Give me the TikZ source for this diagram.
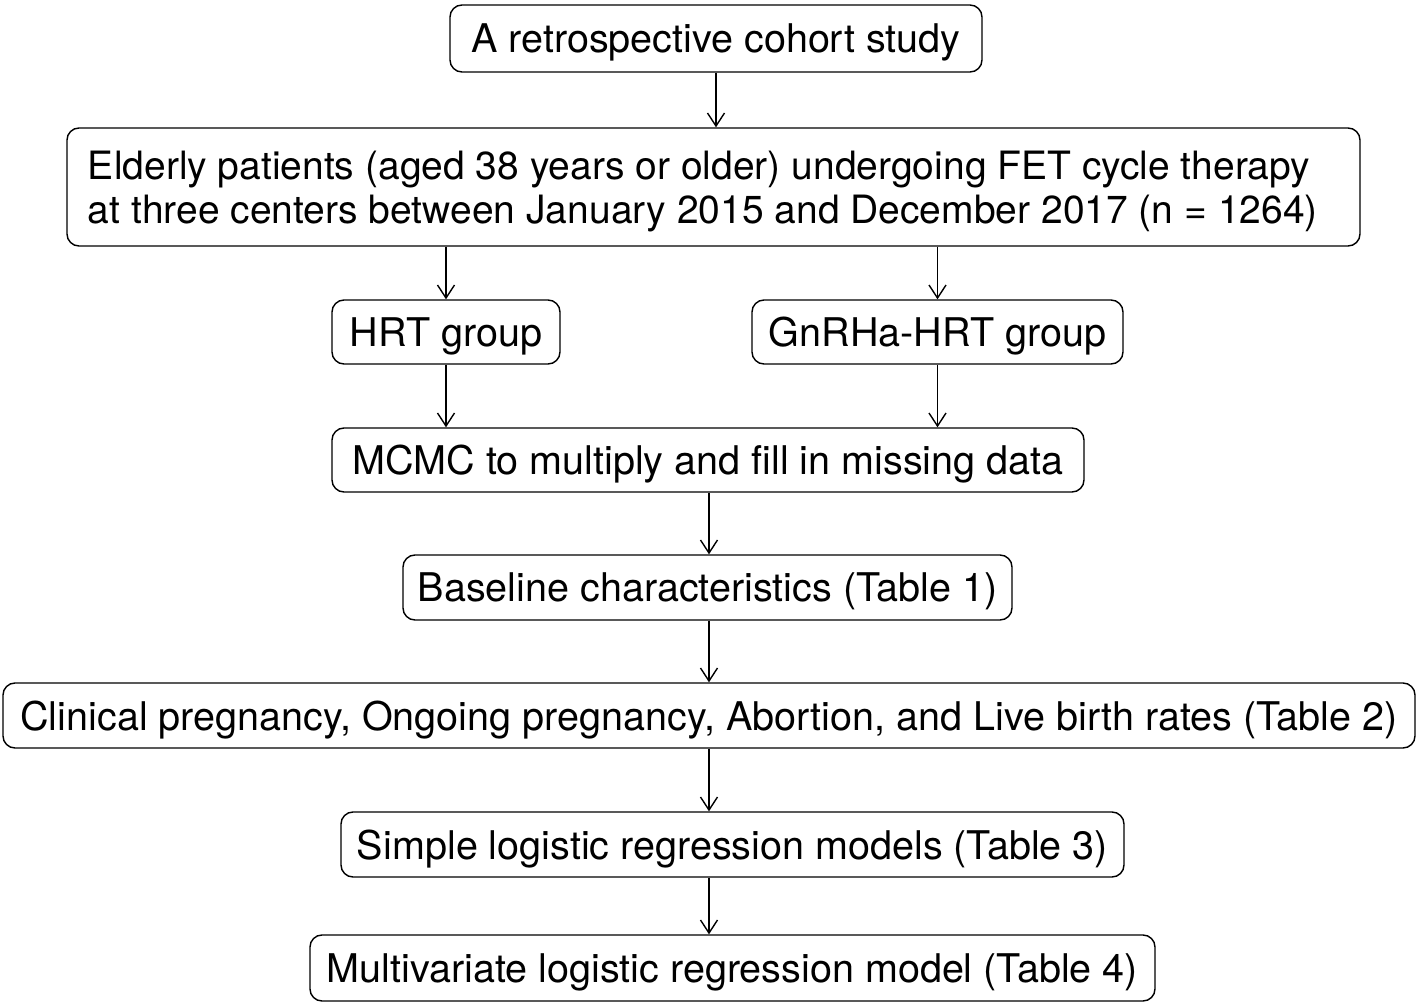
\documentclass[tikz,border=0pt]{standalone}
\usepackage{fontspec}
\setmainfont{TeX Gyre Heros}
\usepackage{tikz}
\usetikzlibrary{arrows.meta, positioning, calc}

\begin{document}
\begin{tikzpicture}[
        box/.style={rectangle, draw=black, rounded corners=2.4mm, line width=0.8pt,
                    inner sep=0pt, minimum height=1.3cm, text depth=0pt,
                    font=\fontsize{22.5}{25}\selectfont},
        arr/.style={-{Straight Barb[length=2.6mm, width=3.4mm]}, line width=0.8pt},
      ]
        \useasboundingbox (0,0) rectangle (28.36,-20.12);

        \node[box, minimum width=10.64cm, minimum height=1.34cm] (cohort) at (14.32, -0.77) {A retrospective cohort study};
        \node[box, inner xsep=0.42cm, text width=25.02cm, minimum height=2.36cm, align=flush left,
              text depth=25pt, font=\fontsize{22.2}{25}\selectfont] (elderly) at (14.27, -3.74)
            {Elderly patients (aged 38 years or older) undergoing FET cycle therapy\\
             at three centers between January 2015 and December 2017 (n = 1264)};
        \node[box, minimum width=4.56cm, minimum height=1.28cm]  (hrt)   at (8.92,  -6.64) {HRT group};
        \node[box, minimum width=7.42cm, minimum height=1.28cm]  (gnrha) at (18.75, -6.64) {GnRHa-HRT group};
        \node[box, minimum width=15.04cm, minimum height=1.28cm] (mcmc)  at (14.16, -9.20) {MCMC to multiply and fill in missing data};
        \node[box, minimum width=12.18cm] (baseline) at (14.15, -11.75) {Baseline characteristics (Table 1)};
        \node[box, minimum width=28.24cm] (clinical) at (14.18, -14.31)
            {Clinical pregnancy, Ongoing pregnancy, Abortion, and Live birth rates (Table 2)};
        \node[box, minimum width=15.66cm] (simple) at (14.65, -16.89) {Simple logistic regression models (Table 3)};
        \node[box, minimum width=16.90cm, minimum height=1.32cm] (multi) at (14.65, -19.36) {Multivariate logistic regression model (Table 4)};

        % vertical line of the main flow
        \coordinate (spine) at (14.18, 0);

        \draw[arr] (cohort.south) -- (cohort.south |- elderly.north);
        \draw[arr] (elderly.south -| hrt.north) -- (hrt.north);
        \draw[arr] (elderly.south -| gnrha.north) -- (gnrha.north);
        \draw[arr] (hrt.south) -- (hrt.south |- mcmc.north);
        \draw[arr] (gnrha.south) -- (gnrha.south |- mcmc.north);
        \draw[arr] (mcmc.south -| spine) -- (baseline.north -| spine);
        \draw[arr] (baseline.south -| spine) -- (clinical.north -| spine);
        \draw[arr] (clinical.south -| spine) -- (simple.north -| spine);
        \draw[arr] (simple.south -| spine) -- (multi.north -| spine);
      \end{tikzpicture}
\end{document}
